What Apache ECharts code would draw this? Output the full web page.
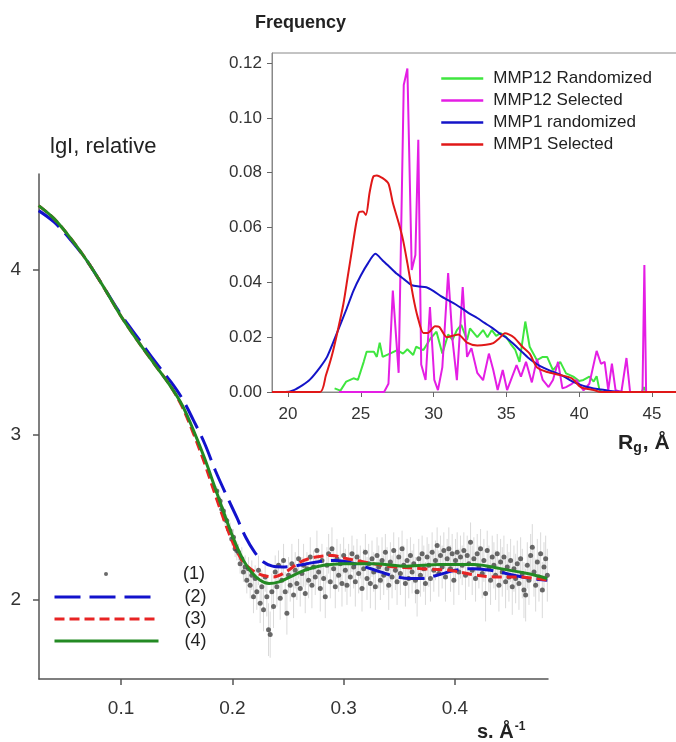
<!DOCTYPE html>
<html>
<head>
<meta charset="utf-8">
<script src="https://cdn.jsdelivr.net/npm/echarts@6/dist/echarts.min.js"></script>
<style>
  html, body { margin: 0; padding: 0; background: #fff; }
  #chart { width: 676px; height: 742px; }
</style>
</head>
<body>
<div id="chart"></div>
<script>
// experimental curve (1): s, lgI and error
var expS = [
  0.1860,0.1875,0.1890,0.1905,0.1920,0.1935,0.1950,0.1965,0.1980,0.1995,
  0.2010,0.2025,0.2040,0.2055,0.2070,0.2085,0.2100,0.2115,0.2130,0.2145,
  0.2160,0.2175,0.2190,0.2205,0.2220,0.2235,0.2250,0.2265,0.2280,0.2295,
  0.2310,0.2325,0.2340,0.2355,0.2370,0.2385,0.2400,0.2415,0.2430,0.2445,
  0.2460,0.2475,0.2490,0.2505,0.2520,0.2535,0.2550,0.2565,0.2580,0.2595,
  0.2610,0.2625,0.2640,0.2655,0.2670,0.2685,0.2700,0.2715,0.2730,0.2745,
  0.2760,0.2775,0.2790,0.2805,0.2820,0.2835,0.2850,0.2865,0.2880,0.2895,
  0.2910,0.2925,0.2940,0.2955,0.2970,0.2985,0.3000,0.3015,0.3030,0.3045,
  0.3060,0.3075,0.3090,0.3105,0.3120,0.3135,0.3150,0.3165,0.3180,0.3195,
  0.3210,0.3225,0.3240,0.3255,0.3270,0.3285,0.3300,0.3315,0.3330,0.3345,
  0.3360,0.3375,0.3390,0.3405,0.3420,0.3435,0.3450,0.3465,0.3480,0.3495,
  0.3510,0.3525,0.3540,0.3555,0.3570,0.3585,0.3600,0.3615,0.3630,0.3645,
  0.3660,0.3675,0.3690,0.3705,0.3720,0.3735,0.3750,0.3765,0.3780,0.3795,
  0.3810,0.3825,0.3840,0.3855,0.3870,0.3885,0.3900,0.3915,0.3930,0.3945,
  0.3960,0.3975,0.3990,0.4005,0.4020,0.4035,0.4050,0.4065,0.4080,0.4095,
  0.4110,0.4125,0.4140,0.4155,0.4170,0.4185,0.4200,0.4215,0.4230,0.4245,
  0.4260,0.4275,0.4290,0.4305,0.4320,0.4335,0.4350,0.4365,0.4380,0.4395,
  0.4410,0.4425,0.4440,0.4455,0.4470,0.4485,0.4500,0.4515,0.4530,0.4545,
  0.4560,0.4575,0.4590,0.4605,0.4620,0.4635,0.4650,0.4665,0.4680,0.4695,
  0.4710,0.4725,0.4740,0.4755,0.4770,0.4785,0.4800,0.4815,0.4830
];
var expI = [
  2.66,2.61,2.60,2.55,2.54,2.49,2.48,2.43,2.42,2.37,
  2.38,2.31,2.30,2.29,2.22,2.25,2.17,2.20,2.12,2.19,
  2.09,2.15,2.02,2.13,2.05,2.18,1.98,2.08,1.94,2.14,
  2.02,1.82,1.79,2.05,1.96,2.17,2.08,2.21,2.01,2.12,
  2.24,2.05,1.92,2.15,2.09,2.22,2.03,2.18,2.10,2.25,
  2.07,2.16,2.21,2.04,2.19,2.12,2.26,2.09,2.20,2.14,
  2.30,2.17,2.07,2.24,2.13,2.02,2.21,2.28,2.11,2.31,
  2.19,2.08,2.25,2.15,2.22,2.10,2.27,2.18,2.09,2.24,
  2.14,2.28,2.20,2.11,2.26,2.16,2.23,2.07,2.19,2.29,
  2.13,2.22,2.10,2.25,2.17,2.08,2.27,2.20,2.12,2.24,
  2.15,2.29,2.19,2.09,2.23,2.14,2.30,2.18,2.11,2.26,
  2.16,2.31,2.21,2.10,2.24,2.13,2.27,2.17,2.22,2.12,
  2.05,2.25,2.15,2.28,2.19,2.10,2.26,2.21,2.13,2.29,
  2.18,2.24,2.33,2.16,2.27,2.20,2.30,2.14,2.25,2.31,
  2.19,2.28,2.12,2.24,2.29,2.17,2.26,2.21,2.30,2.15,
  2.27,2.22,2.35,2.18,2.25,2.13,2.28,2.20,2.31,2.16,
  2.24,2.04,2.30,2.19,2.12,2.26,2.21,2.15,2.28,2.09,
  2.23,2.17,2.26,2.11,2.20,2.14,2.24,2.08,2.19,2.13,
  2.22,2.10,2.25,2.16,2.06,2.03,2.21,2.12,2.27,2.32,
  2.17,2.09,2.23,2.14,2.28,2.06,2.20,2.25,2.15
];
var expErr = [
  0.03,0.03,0.03,0.04,0.03,0.04,0.04,0.04,0.05,0.04,
  0.05,0.05,0.06,0.05,0.06,0.07,0.06,0.07,0.08,0.07,
  0.08,0.09,0.10,0.08,0.11,0.09,0.12,0.10,0.13,0.09,
  0.12,0.16,0.14,0.11,0.13,0.10,0.12,0.09,0.13,0.11,
  0.10,0.12,0.13,0.11,0.10,0.12,0.14,0.11,0.10,0.12,
  0.11,0.10,0.13,0.12,0.10,0.11,0.12,0.14,0.10,0.11,
  0.12,0.11,0.14,0.10,0.12,0.13,0.11,0.12,0.10,0.13,
  0.11,0.13,0.12,0.10,0.12,0.14,0.11,0.13,0.12,0.10,
  0.12,0.11,0.13,0.15,0.11,0.12,0.10,0.14,0.12,0.11,
  0.13,0.12,0.15,0.11,0.12,0.14,0.11,0.13,0.12,0.14,
  0.12,0.11,0.13,0.15,0.12,0.13,0.11,0.12,0.14,0.12,
  0.13,0.11,0.12,0.14,0.13,0.12,0.11,0.13,0.12,0.14,
  0.15,0.12,0.13,0.11,0.14,0.13,0.12,0.13,0.14,0.12,
  0.13,0.12,0.11,0.14,0.12,0.13,0.11,0.15,0.12,0.13,
  0.14,0.12,0.15,0.13,0.12,0.14,0.13,0.12,0.11,0.15,
  0.12,0.14,0.12,0.15,0.13,0.14,0.12,0.13,0.12,0.15,
  0.13,0.17,0.12,0.14,0.15,0.13,0.14,0.15,0.12,0.16,
  0.14,0.15,0.13,0.16,0.14,0.15,0.13,0.17,0.14,0.15,
  0.14,0.16,0.13,0.15,0.17,0.16,0.14,0.15,0.13,0.14,
  0.15,0.16,0.14,0.15,0.13,0.17,0.15,0.14,0.16
];

// fitted curves (2), (3), (4): [s, lgI]
var fitBlue = [
  [0.026,4.36],[0.04,4.29],[0.055,4.18],[0.07,4.05],[0.085,3.89],[0.10,3.73],
  [0.115,3.59],[0.13,3.45],[0.145,3.32],[0.155,3.22],[0.165,3.09],[0.175,2.95],
  [0.185,2.78],[0.195,2.63],[0.204,2.50],[0.212,2.38],[0.22,2.29],[0.228,2.23],
  [0.236,2.205],[0.245,2.20],[0.255,2.205],[0.267,2.22],[0.28,2.235],[0.292,2.24],
  [0.30,2.235],[0.315,2.21],[0.333,2.17],[0.348,2.14],[0.36,2.13],[0.37,2.13],
  [0.384,2.15],[0.40,2.18],[0.417,2.19],[0.432,2.18],[0.453,2.15],[0.468,2.13],[0.483,2.12]
];
var fitRed = [
  [0.026,4.39],[0.04,4.31],[0.055,4.19],[0.07,4.05],[0.085,3.89],[0.10,3.72],
  [0.115,3.57],[0.13,3.43],[0.145,3.29],[0.155,3.17],[0.165,3.01],[0.175,2.83],
  [0.185,2.63],[0.195,2.44],[0.203,2.31],[0.21,2.23],[0.218,2.18],[0.227,2.15],
  [0.237,2.14],[0.248,2.17],[0.261,2.23],[0.275,2.26],[0.29,2.27],[0.30,2.255],
  [0.315,2.235],[0.34,2.205],[0.37,2.19],[0.395,2.18],[0.415,2.155],[0.435,2.14],
  [0.455,2.14],[0.483,2.12]
];
var fitGreen = [
  [0.026,4.39],[0.04,4.31],[0.055,4.19],[0.07,4.05],[0.085,3.89],[0.10,3.72],
  [0.115,3.57],[0.13,3.43],[0.145,3.29],[0.155,3.18],[0.165,3.03],[0.175,2.86],
  [0.185,2.67],[0.195,2.48],[0.203,2.34],[0.21,2.24],[0.217,2.17],[0.225,2.12],
  [0.233,2.10],[0.242,2.11],[0.252,2.14],[0.265,2.18],[0.282,2.21],[0.30,2.22],
  [0.327,2.22],[0.357,2.205],[0.387,2.215],[0.417,2.215],[0.441,2.19],[0.465,2.16],[0.483,2.13]
];

// inset: Rg distributions [Rg, frequency]
var mmp12Random = [
  [23.2,0.0013],[23.6,0.0005],[24.0,0.0038],[24.5,0.005],[24.8,0.0044],[25.2,0.011],
  [25.4,0.0147],[25.9,0.0147],[26.1,0.0128],[26.3,0.018],[26.5,0.0128],[27.0,0.014],
  [27.5,0.0153],[27.9,0.014],[28.2,0.0156],[28.6,0.0135],[28.8,0.0165],[29.3,0.0153],
  [29.8,0.0196],[30.2,0.022],[30.6,0.014],[31.0,0.021],[31.3,0.019],[31.6,0.0226],
  [31.9,0.0245],[32.3,0.019],[32.5,0.0232],[33.0,0.020],[33.4,0.0226],[33.7,0.020],
  [34.0,0.0226],[34.3,0.0205],[34.6,0.0215],[35.0,0.020],[35.3,0.0175],[35.6,0.0155],
  [35.9,0.011],[36.3,0.0257],[36.6,0.0165],[37.1,0.0116],[37.5,0.0128],[37.8,0.0128],
  [38.2,0.008],[38.7,0.011],[39.1,0.0068],[39.6,0.0056],[40.0,0.004],[40.3,0.0044],
  [40.7,0.0056],[41.0,0.0038],[41.2,0.0058],[41.4,0.0006],[41.6,0],[44.3,0],
  [44.45,0.0018],[44.6,0]
];
var mmp12Selected = [
  [23.5,0],[26.6,0],[26.9,0.003],[27.2,0.037],[27.6,0.007],[27.95,0.112],[28.2,0.118],
  [28.5,0.0445],[28.75,0.05],[28.95,0.092],[29.15,0.01],[29.45,0.0044],[29.75,0.031],
  [30.05,0.0044],[30.3,0.0007],[30.6,0.009],[31.0,0.0434],[31.3,0.019],[31.6,0.0043],
  [32.0,0.0383],[32.3,0.0128],[32.6,0.016],[33.0,0.007],[33.4,0.0043],[33.8,0.014],
  [34.1,0.008],[34.4,0.0007],[34.75,0.008],[35.05,0.0007],[35.4,0.0056],[35.7,0.0098],
  [36.0,0.0056],[36.35,0.011],[36.75,0.0035],[37.1,0.012],[37.5,0.0044],[37.9,0.0018],
  [38.2,0.0044],[38.55,0.011],[38.85,0.0013],[39.1,0.0018],[39.5,0.003],[39.8,0.0044],
  [40.3,0.0006],[40.7,0.003],[41.2,0.015],[41.5,0.0103],[41.75,0.011],[42.0,0.0007],
  [42.25,0.0103],[42.5,0.0007],[42.9,0],[43.25,0.0124],[43.5,0],[44.35,0],
  [44.48,0.0463],[44.6,0],[44.7,0]
];
var mmp1Random = [
  [18.9,0],[19.8,0],[20.4,0.0007],[21.0,0.0025],[21.5,0.0045],[22.2,0.009],[22.7,0.013],
  [23.4,0.022],[24.0,0.030],[24.5,0.037],[25.0,0.0425],[25.5,0.047],[26.0,0.0504],
  [26.5,0.048],[27.0,0.0455],[27.5,0.043],[28.0,0.041],[28.5,0.039],[29.0,0.0385],
  [29.5,0.0382],[30.0,0.0368],[30.5,0.035],[31.0,0.0335],[31.5,0.032],[32.0,0.0303],
  [32.5,0.0285],[33.0,0.027],[33.5,0.0252],[34.0,0.0235],[34.5,0.0215],[35.0,0.0198],
  [35.5,0.0175],[36.0,0.015],[36.5,0.0125],[37.0,0.0105],[37.5,0.009],[38.0,0.0078],
  [38.5,0.0068],[39.0,0.0055],[39.5,0.004],[40.0,0.0028],[40.5,0.0019],[41.0,0.0013],
  [41.5,0.0009],[42.0,0.0005],[42.5,0.0002],[43.5,0],[46.8,0]
];
var mmp1Selected = [
  [18.9,0],[22.2,0],[22.6,0.006],[23.0,0.013],[23.4,0.022],[23.8,0.032],[24.1,0.042],
  [24.4,0.052],[24.7,0.062],[24.9,0.0657],[25.15,0.0658],[25.35,0.0646],[25.6,0.0726],
  [25.85,0.0785],[26.1,0.079],[26.5,0.078],[26.9,0.076],[27.2,0.069],[27.6,0.0617],
  [27.9,0.0555],[28.2,0.047],[28.6,0.0347],[28.9,0.0275],[29.3,0.0215],[29.6,0.0215],
  [30.1,0.024],[30.4,0.0237],[30.9,0.020],[31.3,0.0205],[31.7,0.021],[32.3,0.018],
  [33.0,0.017],[33.6,0.0172],[34.1,0.0178],[34.5,0.0195],[34.9,0.0214],[35.5,0.020],
  [36.1,0.0165],[36.6,0.014],[37.1,0.009],[37.8,0.0073],[38.7,0.0062],[39.5,0.005],
  [40.1,0.0018],[41.0,0.0007],[41.5,0],[46.8,0]
];

var sTicks = [0.1, 0.2, 0.3, 0.4];
var lgTicks = [2, 3, 4];
var rgTicks = [20, 25, 30, 35, 40, 45];
var freqTicks = [0, 0.02, 0.04, 0.06, 0.08, 0.10, 0.12];

var font = 'Liberation Sans, Arial, sans-serif';
var expData = expS.map(function (s, i) { return [s, expI[i], expErr[i]]; });

var chart = echarts.init(document.getElementById('chart'));

// line legends: hide the marker that echarts puts in the middle of the line icon
var noMarker = { color: 'transparent', borderWidth: 0, opacity: 0 };

var option = {
  animation: false,
  backgroundColor: '#fff',
  textStyle: { fontFamily: font },
  title: [
    { text: 'lgI, relative', left: 50, top: 136, padding: 0,
      textStyle: { fontSize: 22, fontWeight: 'normal', color: '#222', fontFamily: font } },
    { text: 'Frequency', left: 255, top: 14, padding: 0,
      textStyle: { fontSize: 18, fontWeight: 'bold', color: '#222', fontFamily: font } },
    { text: '{a|R}{b|g}{a|, Å}', left: 618, top: 432, padding: 0,
      textStyle: { fontFamily: font, rich: {
        a: { fontSize: 21, color: '#222', fontFamily: font },
        b: { fontSize: 14, color: '#222', fontFamily: font, padding: [9, 1, 0, 0] }
      } } },
    { text: '{a|s. Å}{c|-1}', left: 477, top: 721, padding: 0,
      textStyle: { fontFamily: font, rich: {
        a: { fontSize: 20, color: '#222', fontFamily: font },
        c: { fontSize: 12, color: '#222', fontFamily: font, padding: [0, 0, 11, 1] }
      } } }
  ],
  legend: [
    {
      data: ['MMP12 Randomized', 'MMP12 Selected', 'MMP1 randomized', 'MMP1 Selected'],
      orient: 'vertical', left: 440, top: 70, padding: 0, itemWidth: 42, itemHeight: 14, itemGap: 5,
      itemStyle: noMarker, lineStyle: { width: 2.5 },
      textStyle: { fontSize: 17, lineHeight: 17, color: '#222', fontFamily: font, padding: [0, 0, 0, 5] }
    },
    {
      data: ['(1)'],
      orient: 'vertical', left: 104, top: 565, padding: 0, itemWidth: 4, itemHeight: 4,
      textStyle: { fontSize: 18, lineHeight: 18, color: '#222', fontFamily: font, padding: [0, 0, 0, 70] }
    },
    {
      data: ['(2)', '(3)', '(4)'],
      orient: 'vertical', left: 53, top: 588, padding: 0, itemWidth: 104, itemHeight: 14, itemGap: 4,
      itemStyle: noMarker, lineStyle: { width: 3 },
      textStyle: { fontSize: 18, lineHeight: 18, color: '#222', fontFamily: font, padding: [0, 0, 0, 21] }
    }
  ],
  grid: [
    { left: 39, top: 174, width: 509, height: 505, outerBoundsMode: 'none' },
    { left: 272, top: 53, width: 406, height: 339, show: true, borderColor: '#888', borderWidth: 1,
      backgroundColor: 'transparent', outerBoundsMode: 'none' }
  ],
  xAxis: [
    {
      type: 'value', gridIndex: 0, min: 0.0263, max: 0.4836,
      axisLine: { show: true, onZero: false, lineStyle: { color: '#555', width: 1.5 } },
      axisTick: { show: true, customValues: sTicks, length: 6, lineStyle: { color: '#555', width: 1.5 } },
      axisLabel: { customValues: sTicks, margin: 20, fontSize: 19, color: '#333', fontFamily: font,
        formatter: function (v) { return v.toFixed(1); } },
      splitLine: { show: false }
    },
    {
      type: 'value', gridIndex: 1, min: 18.9, max: 46.79,
      axisLine: { show: true, onZero: false, lineStyle: { color: '#888', width: 1 } },
      axisTick: { show: true, customValues: rgTicks, length: 5, lineStyle: { color: '#666', width: 1 } },
      axisLabel: { customValues: rgTicks, margin: 14, fontSize: 17, color: '#333', fontFamily: font },
      splitLine: { show: false }
    }
  ],
  yAxis: [
    {
      type: 'value', gridIndex: 0, min: 1.521, max: 4.582,
      axisLine: { show: true, onZero: false, lineStyle: { color: '#555', width: 1.5 } },
      axisTick: { show: true, customValues: lgTicks, length: 6, lineStyle: { color: '#555', width: 1.5 } },
      axisLabel: { customValues: lgTicks, margin: 18, fontSize: 19, color: '#333', fontFamily: font },
      splitLine: { show: false }
    },
    {
      type: 'value', gridIndex: 1, min: 0, max: 0.12365,
      axisLine: { show: true, onZero: false, lineStyle: { color: '#888', width: 1 } },
      axisTick: { show: true, customValues: freqTicks, length: 5, lineStyle: { color: '#666', width: 1 } },
      axisLabel: { customValues: freqTicks, margin: 10, fontSize: 17, color: '#333', fontFamily: font,
        formatter: function (v) { return v.toFixed(2); } },
      splitLine: { show: false }
    }
  ],
  series: [
    {
      name: 'err', type: 'custom', xAxisIndex: 0, yAxisIndex: 0, silent: true, z: 1,
      data: expData, encode: { x: 0, y: 1 },
      renderItem: function (params, api) {
        var s = api.value(0), v = api.value(1), e = api.value(2);
        var p1 = api.coord([s, v - e]);
        var p2 = api.coord([s, v + e]);
        return {
          type: 'line',
          shape: { x1: p1[0], y1: p1[1], x2: p2[0], y2: p2[1] },
          style: { stroke: 'rgba(150,150,150,0.35)', lineWidth: 1 }
        };
      }
    },
    {
      name: '(1)', type: 'scatter', xAxisIndex: 0, yAxisIndex: 0, z: 2,
      data: expData, symbol: 'circle', symbolSize: 5,
      itemStyle: { color: '#454545' }
    },
    {
      name: '(2)', type: 'line', xAxisIndex: 0, yAxisIndex: 0, z: 3,
      data: fitBlue, smooth: 0.35, symbol: 'none',
      itemStyle: { color: '#1212cc' },
      lineStyle: { color: '#1212cc', width: 3, type: [26, 9] }
    },
    {
      name: '(3)', type: 'line', xAxisIndex: 0, yAxisIndex: 0, z: 4,
      data: fitRed, smooth: 0.35, symbol: 'none',
      itemStyle: { color: '#e82424' },
      lineStyle: { color: '#e82424', width: 3, type: [10, 5] }
    },
    {
      name: '(4)', type: 'line', xAxisIndex: 0, yAxisIndex: 0, z: 5,
      data: fitGreen, smooth: 0.35, symbol: 'none',
      itemStyle: { color: '#238a23' },
      lineStyle: { color: '#238a23', width: 3 }
    },
    {
      name: 'MMP12 Randomized', type: 'line', xAxisIndex: 1, yAxisIndex: 1,
      data: mmp12Random, symbol: 'none',
      itemStyle: { color: '#3fe63f' }, lineStyle: { color: '#3fe63f', width: 2 }
    },
    {
      name: 'MMP12 Selected', type: 'line', xAxisIndex: 1, yAxisIndex: 1,
      data: mmp12Selected, symbol: 'none',
      itemStyle: { color: '#e41ee4' }, lineStyle: { color: '#e41ee4', width: 2 }
    },
    {
      name: 'MMP1 randomized', type: 'line', xAxisIndex: 1, yAxisIndex: 1,
      data: mmp1Random, smooth: 0.25, symbol: 'none',
      itemStyle: { color: '#1414c8' }, lineStyle: { color: '#1414c8', width: 2 }
    },
    {
      name: 'MMP1 Selected', type: 'line', xAxisIndex: 1, yAxisIndex: 1,
      data: mmp1Selected, smooth: 0.25, symbol: 'none',
      itemStyle: { color: '#e01818' }, lineStyle: { color: '#e01818', width: 2 }
    }
  ]
};

chart.setOption(option);
</script>
</body>
</html>
